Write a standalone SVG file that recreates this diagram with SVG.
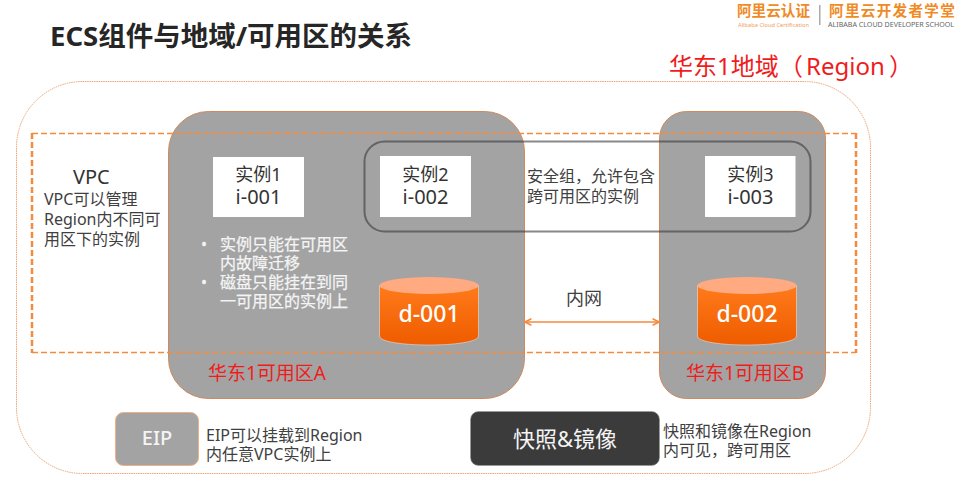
<svg xmlns="http://www.w3.org/2000/svg" width="957" height="493" viewBox="0 0 957 493">
<style>
text{font-family:"Noto Sans","Noto Sans CJK SC",sans-serif}
.zone{fill:#a3a3a3;stroke:#d08a5a;stroke-width:1}
.inst{fill:#fff}
.t{fill:#404040}
.k{fill:#333}
.r{fill:#f01c1c}
.w{fill:#f4f4f4}
.body{font-size:16px}
</style>
<defs>
<linearGradient id="cyl" x1="0" y1="0" x2="0" y2="1"><stop offset="0" stop-color="#ff7a1a"/><stop offset="1" stop-color="#ee5c00"/></linearGradient>
<marker id="ah" viewBox="0 0 10 10" refX="9" refY="5" markerWidth="5" markerHeight="5" orient="auto-start-reverse"><path d="M1 1L9 5L1 9" fill="none" stroke="#f58a3c" stroke-width="2"/></marker>
</defs>
<rect width="957" height="493" fill="#fff"/>
<text x="50" y="46" font-size="27.500" font-weight="700" fill="#262626">ECS组件与地域/可用区的关系</text>
<g id="logo">
<text x="737" y="16" font-size="14.600" font-weight="700" fill="#f08a24">阿里云认证</text>
<text x="738" y="27" font-size="5.700" fill="#f0a060">Alibaba Cloud Certification</text>
<rect x="819" y="5" width="1.500" height="20" fill="#aaa"/>
<text x="829" y="16" font-size="14.600" font-weight="700" fill="#f08a24" letter-spacing="1.300">阿里云开发者学堂</text>
<text x="828" y="27" font-size="7.100" fill="#666">ALIBABA CLOUD DEVELOPER SCHOOL</text>
</g>
<g id="region"><rect x="16.500" y="81.500" width="854" height="392" rx="66" fill="#fff" stroke="#eda574" stroke-width="1" stroke-dasharray="1.500 .8"/>
<text x="669" y="75" font-size="24" class="r">华东1地域<tspan x="779">（</tspan><tspan x="806">Region</tspan><tspan x="889">）</tspan></text></g>
<g id="zone-a"><rect class="zone" x="168.500" y="111.500" width="356" height="287" rx="40"/><text x="208" y="380" font-size="19" class="r">华东1可用区A</text></g>
<g id="zone-b"><rect class="zone" x="659.500" y="111.500" width="166" height="287" rx="27"/><text x="686" y="380" font-size="19" class="r">华东1可用区B</text></g>
<g id="vpc"><path d="M32 133.500H856M32 352.500H856" fill="none" stroke="#f58a3c" stroke-width="1.500" stroke-dasharray="6 3"/><path d="M32 133V353M856 133V353" fill="none" stroke="#f58a3c" stroke-width="2.500" stroke-dasharray="6 3"/>
<text x="73" y="184" font-size="20" class="k">VPC</text>
<text class="t body"><tspan x="44" y="205">VPC可以管理</tspan><tspan x="44" y="225">Region内不同可</tspan><tspan x="44" y="245">用区下的实例</tspan></text></g>
<g id="i1"><rect class="inst" x="213" y="157" width="91" height="60"/><text x="258.500" y="181" font-size="18" class="k" text-anchor="middle">实例1</text><text x="258.500" y="204" font-size="20" class="k" text-anchor="middle">i-001</text></g>
<g id="i2"><rect class="inst" x="380" y="156" width="91" height="61"/><text x="425.500" y="181" font-size="18" class="k" text-anchor="middle">实例2</text><text x="425.500" y="204" font-size="20" class="k" text-anchor="middle">i-002</text></g>
<g id="i3"><rect class="inst" x="705" y="156" width="90.500" height="61"/><text x="750.500" y="181" font-size="18" class="k" text-anchor="middle">实例3</text><text x="750.500" y="204" font-size="20" class="k" text-anchor="middle">i-003</text></g>
<g id="sg"><rect x="364.500" y="141.500" width="446" height="90" rx="20" fill="none" stroke="#3a3a3a" stroke-opacity=".6" stroke-width="2"/>
<text class="t body"><tspan x="527" y="182">安全组，允许包含</tspan><tspan x="527" y="202">跨可用区的实例</tspan></text></g>
<g id="notes"><text class="w body" stroke="#f4f4f4" stroke-width=".25"><tspan x="201" y="250">•</tspan><tspan x="220" y="250">实例只能在可用区</tspan><tspan x="220" y="269">内故障迁移</tspan><tspan x="201" y="288">•</tspan><tspan x="220" y="288">磁盘只能挂在到同</tspan><tspan x="220" y="307">一可用区的实例上</tspan></text></g>
<g id="d1"><path d="M379.500 285.500V336C379.500 348 478.500 348 478.500 336V285.500Z" fill="url(#cyl)" stroke="#eee" stroke-width=".5"/><ellipse cx="429" cy="285.500" rx="49.500" ry="8.500" fill="#ffaa80"/><text x="429" y="322" font-size="23" font-weight="500" fill="#fff" text-anchor="middle">d-001</text></g>
<g id="d2"><path d="M697.500 285.500V336C697.500 348 796.500 348 796.500 336V285.500Z" fill="url(#cyl)" stroke="#eee" stroke-width=".5"/><ellipse cx="747" cy="285.500" rx="49.500" ry="8.500" fill="#ffaa80"/><text x="747" y="322" font-size="23" font-weight="500" fill="#fff" text-anchor="middle">d-002</text></g>
<g id="connectors"><line x1="525" y1="322" x2="659" y2="322" stroke="#f58a3c" stroke-width="1.600" marker-start="url(#ah)" marker-end="url(#ah)"/></g>
<text x="584" y="305" font-size="18" class="t" text-anchor="middle">内网</text>
<g id="eip"><rect x="115.500" y="412.500" width="83" height="53" rx="8" fill="#a3a3a3" stroke="#f0b080"/><text x="157" y="445" font-size="20" font-weight="500" fill="#f4f4f4" text-anchor="middle">EIP</text>
<text class="t body"><tspan x="206" y="441">EIP可以挂载到Region</tspan><tspan x="206" y="460">内任意VPC实例上</tspan></text></g>
<g id="snap"><rect x="470.500" y="411.500" width="189" height="54" rx="8" fill="#3b3b3b" stroke="#999" stroke-width=".6"/><text x="565" y="447" font-size="22" fill="#f4f4f4" text-anchor="middle">快照&amp;镜像</text>
<text class="t body"><tspan x="663" y="437">快照和镜像在Region</tspan><tspan x="663" y="456">内可见，跨可用区</tspan></text></g>
</svg>
